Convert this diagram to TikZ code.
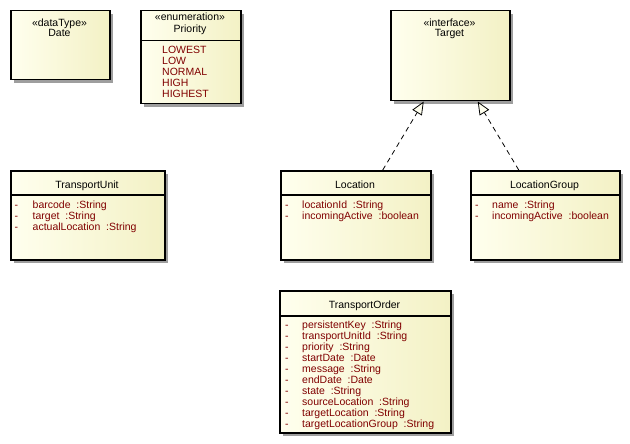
\documentclass[tikz,border=0pt]{standalone}
\usepackage{fontspec}
\setmainfont{Liberation Sans}
\usetikzlibrary{arrows.meta,shadows}
\definecolor{umlleft}{RGB}{255,255,238}
\definecolor{umlright}{RGB}{243,241,197}
\definecolor{attrred}{RGB}{128,0,0}

\tikzset{
  umlclass/.style={draw, line width=1.5pt, anchor=north west, inner sep=0pt,
    left color=umlleft, right color=umlright,
    general shadow={fill=black!38, shadow xshift=3.5pt, shadow yshift=-3.5pt}},
  umltext/.style={inner sep=0pt, anchor=base, font=\fontsize{10.5}{11}\selectfont},
  umlattr/.style={umltext, anchor=base west, text=attrred},
  realize/.style={dash pattern=on 5pt off 4pt, line width=0.8pt,
    -{Triangle[length=13pt, width=11pt, fill=umlleft]}}
}

\begin{document}
\begin{tikzpicture}[x=1pt, y=-1pt]
    \useasboundingbox (0,0) rectangle (630,444);

    % data type and enumeration
    \node[umlclass, minimum width=99pt, minimum height=69pt] (date) at (10,10) {};
    \node[umltext] (datest) at (59.5,26.5) {«dataType»};
    \node[umltext] (datename) at (59.5,37) {Date};

    \node[umlclass, minimum width=100pt, minimum height=93pt] (priority) at (140,10) {};
    \node[umltext] (priost) at (190,20.8) {«enumeration»};
    \node[umltext] (prioname) at (190,32.6) {Priority};
    \draw[line width=0.9pt] ([yshift=-30.6pt]priority.north west) -- ([yshift=-30.6pt]priority.north east);
    \foreach \lit [count=\i] in {LOWEST,LOW,NORMAL,HIGH,HIGHEST} {
        \node[umlattr] (lit\i) at (162, 42.6+\i*10.9) {\lit};
    }

    % interface
    \node[umlclass, minimum width=119pt, minimum height=90pt] (target) at (390,10) {};
    \node[umltext] (targetst) at (449.5,26.5) {«interface»};
    \node[umltext] (targetname) at (449.5,36.5) {Target};

    % transport unit
    \node[umlclass, minimum width=154pt, minimum height=89pt] (unit) at (10,170) {};
    \node[umltext] (unitname) at (87,188.5) {TransportUnit};
    \draw[line width=2pt] ([yshift=-25pt]unit.north west) -- ([yshift=-25pt]unit.north east);
    \foreach \attr/\type [count=\i] in {barcode/String, target/String, actualLocation/String} {
        \node[umlattr] (unitdash\i) at (14.5, 197+\i*11) {-};
        \node[umlattr] (unitattr\i) at (32.5, 197+\i*11) {\attr\ \ :\type};
    }

    % location
    \node[umlclass, minimum width=150pt, minimum height=89pt] (location) at (280,170) {};
    \node[umltext] (locname) at (355,188.5) {Location};
    \draw[line width=2pt] ([yshift=-25pt]location.north west) -- ([yshift=-25pt]location.north east);
    \foreach \attr/\type [count=\i] in {locationId/String, incomingActive/boolean} {
        \node[umlattr] (locdash\i) at (285, 197+\i*11) {-};
        \node[umlattr] (locattr\i) at (302, 197+\i*11) {\attr\ \ :\type};
    }

    % location group
    \node[umlclass, minimum width=149pt, minimum height=89pt] (locgroup) at (470,170) {};
    \node[umltext] (groupname) at (544.5,188.5) {LocationGroup};
    \draw[line width=2pt] ([yshift=-25pt]locgroup.north west) -- ([yshift=-25pt]locgroup.north east);
    \foreach \attr/\type [count=\i] in {name/String, incomingActive/boolean} {
        \node[umlattr] (groupdash\i) at (475, 197+\i*11) {-};
        \node[umlattr] (groupattr\i) at (492, 197+\i*11) {\attr\ \ :\type};
    }

    % transport order
    \node[umlclass, minimum width=171pt, minimum height=142pt] (order) at (279,290) {};
    \node[umltext] (ordername) at (364.5,308.3) {TransportOrder};
    \draw[line width=2pt] ([yshift=-26pt]order.north west) -- ([yshift=-26pt]order.north east);
    \foreach \attr/\type [count=\i] in {persistentKey/String, transportUnitId/String,
        priority/String, startDate/Date, message/String, endDate/Date, state/String,
        sourceLocation/String, targetLocation/String, targetLocationGroup/String} {
        \node[umlattr] (orderdash\i) at (285, 317.3+\i*11) {-};
        \node[umlattr] (orderattr\i) at (302, 317.3+\i*11) {\attr\ \ :\type};
    }

    % realizations
    \draw[realize] ([xshift=27pt]location.north) -- ([xshift=-26.5pt]target.south);
    \draw[realize] ([xshift=-26.5pt]locgroup.north) -- ([xshift=27.5pt]target.south);
\end{tikzpicture}
\end{document}
